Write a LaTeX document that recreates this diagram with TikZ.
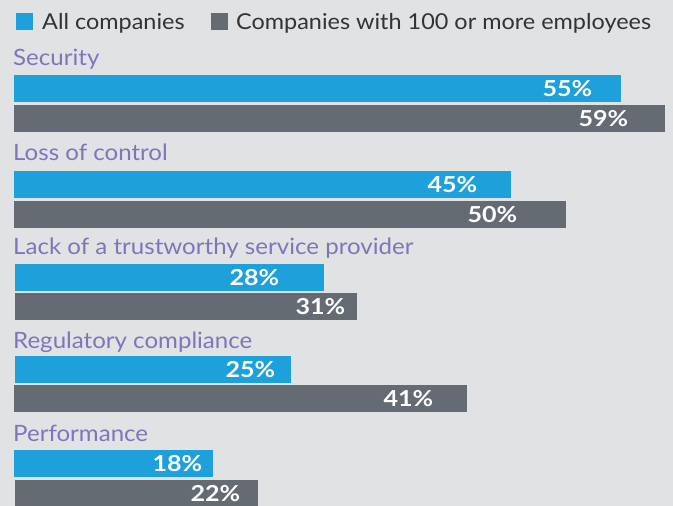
\documentclass[tikz,border=0pt]{standalone}
\usepackage{fontspec}
\setmainfont{Lato}[FakeStretch=1.07]
\newfontfamily\pctfont{Lato}[FakeStretch=1.14]
\usetikzlibrary{positioning}
\definecolor{allblue}{HTML}{1EA0DA}
\definecolor{bigdark}{HTML}{646B73}
\definecolor{catpurple}{HTML}{7B77BA}
\definecolor{pagegrey}{HTML}{E1E2E4}
\definecolor{legendtext}{HTML}{333333}

\begin{document}
\begin{tikzpicture}[x=1pt,y=-1pt,
	bar/.style={anchor=north west,inner sep=0pt,minimum height=26.5pt},
	key/.style={anchor=north west,inner sep=0pt,minimum size=16.5pt},
	cat/.style={anchor=base west,inner sep=0pt,text=catpurple,font=\fontsize{22.5}{26}\selectfont},
	pct/.style={anchor=east,inner sep=0pt,text=white,font=\pctfont\bfseries\fontsize{22}{25}\selectfont},
	legend/.style={anchor=base west,inner sep=0pt,text=legendtext,font=\fontsize{21.9}{26}\selectfont}]
	
	\fill [pagegrey] (0,0) rectangle (673,506);
	\useasboundingbox (0,0) rectangle (673,506);
	
	% legend
	\node (key-all) [key, fill=allblue] at (16,13) {};
	\node (key-big) [key, fill=bigdark] at (211,13) {};
	\node (txt-all) [legend] at (42,29) {All companies};
	\node (txt-big) [legend] at (236,29) {Companies with 100 or more employees};
	
	% bars
	\node (sec-all) [bar, fill=allblue, minimum width=607pt] at (14,75) {};
	\node (sec-big) [bar, fill=bigdark, minimum width=651pt] at (14,105) {};
	\node (loss-all) [bar, fill=allblue, minimum width=497pt] at (14,171) {};
	\node (loss-big) [bar, fill=bigdark, minimum width=552pt] at (14,201) {};
	\node (lack-all) [bar, fill=allblue, minimum width=309pt] at (15,264) {};
	\node (lack-big) [bar, fill=bigdark, minimum width=342pt] at (15,293) {};
	\node (reg-all) [bar, fill=allblue, minimum width=276pt] at (15,356) {};
	\node (reg-big) [bar, fill=bigdark, minimum width=453pt] at (14,385) {};
	\node (perf-all) [bar, fill=allblue, minimum width=199pt] at (14,450) {};
	\node (perf-big) [bar, fill=bigdark, minimum width=243pt] at (15,480) {};
	
	% categories
	\node (sec) [cat] at ([xshift=-1pt,yshift=10pt]sec-all.north west) {Security};
	\node (loss) [cat] at ([xshift=-1pt,yshift=11pt]loss-all.north west) {Loss of control};
	\node (lack) [cat] at ([xshift=-2pt,yshift=10pt]lack-all.north west) {Lack of a trustworthy service provider};
	\node (reg) [cat] at ([xshift=-2pt,yshift=8pt]reg-all.north west) {Regulatory compliance};
	\node (perf) [cat] at ([xshift=-1pt,yshift=8.5pt]perf-all.north west) {Performance};
	
	% values
	\node (sec-all-v) [pct] at ([xshift=-29pt]sec-all.east) {55\%};
	\node (sec-big-v) [pct] at ([xshift=-37pt]sec-big.east) {59\%};
	\node (loss-all-v) [pct] at ([xshift=-34pt]loss-all.east) {45\%};
	\node (loss-big-v) [pct] at ([xshift=-49pt]loss-big.east) {50\%};
	\node (lack-all-v) [pct] at ([xshift=-45pt]lack-all.east) {28\%};
	\node (lack-big-v) [pct] at ([xshift=-12pt]lack-big.east) {31\%};
	\node (reg-all-v) [pct] at ([xshift=-16pt]reg-all.east) {25\%};
	\node (reg-big-v) [pct] at ([xshift=-34pt]reg-big.east) {41\%};
	\node (perf-all-v) [pct] at ([xshift=-11pt]perf-all.east) {18\%};
	\node (perf-big-v) [pct] at ([xshift=-18pt]perf-big.east) {22\%};
	
\end{tikzpicture}
\end{document}
